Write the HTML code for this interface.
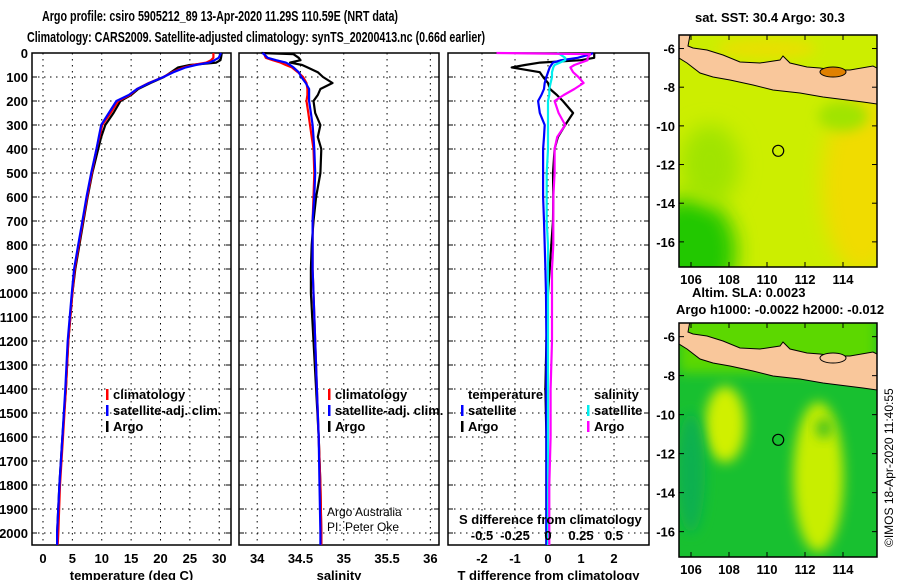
<!DOCTYPE html>
<html><head><meta charset="utf-8"><style>
html,body{margin:0;padding:0;background:#fff;}
svg{display:block;font-family:"Liberation Sans",sans-serif;}
.b{font-weight:bold;font-size:13px;}
.t{font-weight:bold;font-size:15px;}
</style></head><body>
<svg id="c" width="900" height="580" viewBox="0 0 900 580">
<defs>
<filter id="bl" x="-50%" y="-50%" width="200%" height="200%"><feGaussianBlur stdDeviation="10"/></filter>
<filter id="bl2" x="-50%" y="-50%" width="200%" height="200%"><feGaussianBlur stdDeviation="6"/></filter>
<clipPath id="m1c"><rect x="679" y="35" width="198" height="232"/></clipPath>
<clipPath id="m2c"><rect x="679" y="323" width="198" height="234"/></clipPath>
</defs>
<text x="42" y="21" class="t" textLength="356" lengthAdjust="spacingAndGlyphs">Argo profile: csiro 5905212_89 13-Apr-2020 11.29S 110.59E (NRT data)</text>
<text x="27" y="42" class="t" textLength="458" lengthAdjust="spacingAndGlyphs">Climatology: CARS2009. Satellite-adjusted climatology: synTS_20200413.nc (0.66d earlier)</text>
<g id="plots"></g>
<g id="maps"></g>
<text transform="translate(893,547) rotate(-90)" font-size="12">©IMOS 18-Apr-2020 11:40:55</text>
</svg>
<script>
// ---- data ----
const depth      = [0,5,20,30,40,50,60,80,100,125,150,175,200,250,300,350,400,500,600,700,800,900,1000,1200,1400,1600,1800,2000,2050];
const tempClim   = [29.0,29.0,29.0,28.6,27.8,25.5,24.0,22.0,20.5,18.0,16.0,14.8,12.8,11.5,10.1,9.6,9.1,8.3,7.5,6.8,6.1,5.4,5.0,4.3,3.9,3.4,2.9,2.6,2.5];
const tempSat    = [30.3,30.2,29.9,29.2,28.3,26.0,24.3,22.2,20.5,18.1,16.0,14.6,12.5,11.2,9.9,9.5,9.1,8.2,7.4,6.7,6.0,5.3,4.9,4.2,3.8,3.3,2.8,2.4,2.4];
const tempArgo   = [30.4,30.4,30.3,30.2,29.5,25.0,23.0,21.8,20.6,18.3,16.2,15.0,13.2,12.0,10.6,9.9,9.4,8.4,7.6,6.9,6.2,5.5,5.0,4.3,3.9,3.3,2.8,2.4,2.4];
const salClim    = [34.07,34.08,34.10,34.18,34.27,34.33,34.40,34.47,34.53,34.57,34.58,34.58,34.57,34.59,34.61,34.63,34.65,34.66,34.65,34.64,34.64,34.64,34.65,34.67,34.69,34.71,34.73,34.74,34.74];
const salSat     = [34.06,34.08,34.12,34.22,34.33,34.38,34.42,34.48,34.51,34.56,34.60,34.60,34.60,34.62,34.64,34.65,34.66,34.67,34.66,34.64,34.64,34.64,34.65,34.67,34.69,34.71,34.72,34.73,34.73];
const salArgo    = [34.05,34.42,34.48,34.50,34.38,34.52,34.58,34.70,34.76,34.87,34.73,34.70,34.65,34.67,34.73,34.70,34.74,34.73,34.68,34.65,34.63,34.62,34.62,34.65,34.68,34.71,34.73,34.74,34.74];
const dTempSat   = [1.36,1.3,0.9,0.4,0.15,0.1,0.05,0.0,-0.05,-0.1,-0.12,-0.2,-0.3,-0.25,-0.1,-0.12,-0.15,-0.15,-0.15,-0.12,-0.1,-0.08,-0.06,-0.05,-0.05,-0.05,-0.05,-0.05,-0.05];
const dTempArgo  = [1.4,1.4,1.4,1.0,-0.24,-0.7,-1.1,-0.25,-0.15,0.0,0.06,0.27,0.45,0.76,0.52,0.3,0.2,0.15,0.16,0.15,0.1,0.05,0.0,-0.05,-0.08,-0.05,-0.05,-0.05,-0.05];
const dSalSat    = [0.07,0.09,0.13,0.13,0.09,0.05,0.04,0.03,0.03,0.02,0.01,0.01,0.0,0.0,0.0,0.0,0.0,-0.01,-0.01,-0.01,0.0,0.0,0.0,0.0,0.0,0.0,0.0,0.0,0.0];
const dSalArgo   = [-0.39,0.32,0.30,0.30,0.25,0.2,0.17,0.19,0.23,0.27,0.2,0.12,0.05,0.08,0.13,0.07,0.05,0.05,0.04,0.04,0.04,0.03,0.03,0.03,0.02,0.02,0.01,0.01,0.01];
const depthTicks = [0,100,200,300,400,500,600,700,800,900,1000,1100,1200,1300,1400,1500,1600,1700,1800,1900,2000];
const tempTicks  = [0,5,10,15,20,25,30];
const salTicks   = [34,34.5,35,35.5,36];
const dTTicks    = [-2,-1,0,1,2];
const dSTicks    = [-0.5,-0.25,0,0.25,0.5];
const lonTicks   = [106,108,110,112,114];
const latTicks   = [-6,-8,-10,-12,-14,-16];
const argoLon = 110.59, argoLat = -11.29;

const NS="http://www.w3.org/2000/svg";
const G=document.getElementById('plots');
const M=document.getElementById('maps');
function mk(tag,attrs,parent){const e=document.createElementNS(NS,tag);for(const k in attrs)e.setAttribute(k,attrs[k]);(parent||G).appendChild(e);return e;}
const yD=d=>53+d*0.24;
const panels=[
 {x0:32,x1:231,lo:-1.87,hi:32.0,ticks:tempTicks,label:'temperature (deg C)',name:'temperature-panel'},
 {x0:239,x1:439,lo:33.79,hi:36.10,ticks:salTicks,label:'salinity',name:'salinity-panel'},
 {x0:448,x1:649,lo:-3.03,hi:3.06,ticks:dTTicks,label:'T difference from climatology',name:'difference-panel'}
];
panels.forEach(p=>{p.sx=v=>p.x0+(v-p.lo)/(p.hi-p.lo)*(p.x1-p.x0);});
panels.forEach((p,i)=>{
 const g=mk('g',{});
 
 
 depthTicks.forEach(d=>{const l=mk('line',{x1:p.x0,x2:p.x1,y1:yD(d),y2:yD(d),stroke:'#000','stroke-width':1,'stroke-dasharray':'1.5,4.5'},g);
   mk('line',{x1:p.x0,x2:p.x0+5,y1:yD(d),y2:yD(d),stroke:'#000'},g);mk('line',{x1:p.x1-5,x2:p.x1,y1:yD(d),y2:yD(d),stroke:'#000'},g);});
 p.ticks.forEach(t=>{const x=p.sx(t);const l=mk('line',{x1:x,x2:x,y1:53,y2:545,stroke:'#000','stroke-dasharray':'1.5,4.5'},g);
   const tx=mk('text',{x:x,y:563,'text-anchor':'middle',class:'b'},g);tx.textContent=t;});
 const r=mk('rect',{x:p.x0,y:53,width:p.x1-p.x0,height:492,fill:'none',stroke:'#000','stroke-width':1.5},g);
 
 const lab=mk('text',{x:(p.x0+p.x1)/2,y:580,'text-anchor':'middle',class:'b'},g);lab.textContent=p.label;
 
});
depthTicks.forEach(d=>{const t=mk('text',{x:28,y:yD(d)+5,'text-anchor':'end',class:'b'});t.textContent=d;});
function line(vals,sx,color,name,w){
 const pts=vals.map((v,i)=>sx(v).toFixed(1)+','+yD(depth[i]).toFixed(1)).join(' ');
 const e=mk('polyline',{points:pts,fill:'none',stroke:color,'stroke-width':w||2.2,'stroke-linejoin':'round'});
 
 
}
const P=panels;
line(tempArgo,P[0].sx,'#000','temp-argo-line');
line(tempClim,P[0].sx,'#f00','temp-climatology-line');
line(tempSat,P[0].sx,'#00f','temp-satellite-line');
line(salArgo,P[1].sx,'#000','sal-argo-line');
line(salClim,P[1].sx,'#f00','sal-climatology-line');
line(salSat,P[1].sx,'#00f','sal-satellite-line');
const sS=v=>548+v*132;
line(dTempArgo,P[2].sx,'#000','dtemp-argo-line');
line(dTempSat,P[2].sx,'#00f','dtemp-satellite-line');
line(dSalSat,sS,'#0ee','dsal-satellite-line');
line(dSalArgo,sS,'#f0f','dsal-argo-line');
function leg(x,y,color,txt,name){
 const g=mk('g',{});
 if(color)mk('rect',{x:x-7,y:y-10,width:2.5,height:11,fill:color},g);
 const t=mk('text',{x:x,y:y,class:'b'},g);t.textContent=txt;
}
leg(113,399,'#f00','climatology','legend-climatology');
leg(113,415,'#00f','satellite-adj. clim.','legend-satellite');
leg(113,431,'#000','Argo','legend-argo');
leg(335,399,'#f00','climatology','legend-climatology-sal');
leg(335,415,'#00f','satellite-adj. clim.','legend-satellite-sal');
leg(335,431,'#000','Argo','legend-argo-sal');
leg(468,399,null,'temperature','legend-temperature-head');
leg(468,415,'#00f','satellite','legend-t-satellite');
leg(468,431,'#000','Argo','legend-t-argo');
leg(594,399,null,'salinity','legend-salinity-head');
leg(594,415,'#0ee','satellite','legend-s-satellite');
leg(594,431,'#f0f','Argo','legend-s-argo');
{const t=mk('text',{x:459,y:524,class:'b'});t.textContent='S difference from climatology';}
dSTicks.forEach(v=>{const t=mk('text',{x:sS(v),y:540,'text-anchor':'middle',class:'b'});t.textContent=v;});
{const t=mk('text',{x:327,y:516,'font-size':12});t.textContent='Argo Australia';
 const u=mk('text',{x:327,y:531,'font-size':12});u.textContent='PI: Peter Oke';}

// ---- maps ----
const java=[[679,35],[690,35],[688,46],[693,48],[707,50],[723,55],[740,62],[760,63],[780,60],[783,56],[790,63],[807,67],[820,68],[833,70],[850,70],[873,66],[877,68],[877,104],[863,102],[847,100],[823,97],[800,93],[773,90],[753,85],[730,80],[713,77],[700,73],[687,63],[679,58]];
function map(top,bottom,clip,kind,name){
 const g=mk('g',{'clip-path':'url(#'+clip+')'},M);
 
 const sy=(bottom-top)/12.0;
 const X=lon=>691+(lon-106)*19, Y=lat=>top+(-5.3-lat)*sy;
 if(kind==1){
  mk('rect',{x:679,y:top,width:198,height:bottom-top,fill:'#ccee00'},g);
  mk('ellipse',{cx:X(115),cy:Y(-13),rx:40,ry:90,fill:'#f0dc00',filter:'url(#bl)'},g);
  mk('ellipse',{cx:X(106),cy:Y(-16.5),rx:45,ry:55,fill:'#22c800',filter:'url(#bl)'},g);
  mk('ellipse',{cx:X(107),cy:Y(-12),rx:30,ry:40,fill:'#a0e400',filter:'url(#bl)'},g);
  mk('ellipse',{cx:X(114),cy:Y(-9.5),rx:25,ry:15,fill:'#a0e400',filter:'url(#bl2)'},g);
  mk('ellipse',{cx:X(110),cy:Y(-6),rx:50,ry:10,fill:'#e8e000',filter:'url(#bl2)'},g);
 } else {
  mk('rect',{x:679,y:top,width:198,height:bottom-top,fill:'#18c030'},g);
  mk('rect',{x:679,y:top-10,width:198,height:60,fill:'#5cd800',filter:'url(#bl2)'},g);
  mk('ellipse',{cx:X(107.8),cy:Y(-10.5),rx:20,ry:38,fill:'#d0f000',filter:'url(#bl2)'},g);
  mk('ellipse',{cx:X(112.7),cy:Y(-13.2),rx:25,ry:75,fill:'#c8ee00',filter:'url(#bl2)'},g);
  mk('ellipse',{cx:X(113),cy:Y(-10.7),rx:8,ry:10,fill:'#40c020',filter:'url(#bl2)'},g);
  mk('ellipse',{cx:X(106),cy:Y(-13),rx:14,ry:60,fill:'#10b050',filter:'url(#bl2)'},g);
 }
 const off=top-35;
 const poly=mk('polygon',{points:java.map(p=>p[0]+','+(p[1]+(kind==1?0:off-2))).join(' '),fill:'#f9c79b',stroke:'#000','stroke-width':1},g);
 
 mk('ellipse',{cx:833,cy:72+(kind==1?0:off-2),rx:13,ry:5,fill:kind==1?'#e08000':'#f9c79b',stroke:'#000'},g);
 const c=mk('circle',{cx:X(argoLon),cy:Y(argoLat),r:5.5,fill:'none',stroke:'#000','stroke-width':1.2},M);
 
 const f=mk('rect',{x:679,y:top,width:198,height:bottom-top,fill:'none',stroke:'#000','stroke-width':1.5},M);
 
 latTicks.forEach(l=>{const y=Y(l);mk('line',{x1:679,x2:684,y1:y,y2:y,stroke:'#000'},M);mk('line',{x1:872,x2:877,y1:y,y2:y,stroke:'#000'},M);
   const t=mk('text',{x:675,y:y+5,'text-anchor':'end',class:'b'},M);t.textContent=l;});
 lonTicks.forEach(l=>{const x=X(l);mk('line',{x1:x,x2:x,y1:top,y2:top+5,stroke:'#000'},M);mk('line',{x1:x,x2:x,y1:bottom-5,y2:bottom,stroke:'#000'},M);
   const t=mk('text',{x:x,y:bottom+17,'text-anchor':'middle',class:'b'},M);t.textContent=l;});
}
map(35,267,'m1c',1,'sst-map');
map(323,557,'m2c',2,'sla-map');
[['sat. SST: 30.4 Argo: 30.3',695,22,'sst-title'],['Altim. SLA: 0.0023',692,297,'sla-title'],['Argo h1000: -0.0022 h2000: -0.012',676,314,'argo-height-title']].forEach(a=>{
 const t=mk('text',{x:a[1],y:a[2],class:'b'},M);t.textContent=a[0];});
</script>
</body></html>
